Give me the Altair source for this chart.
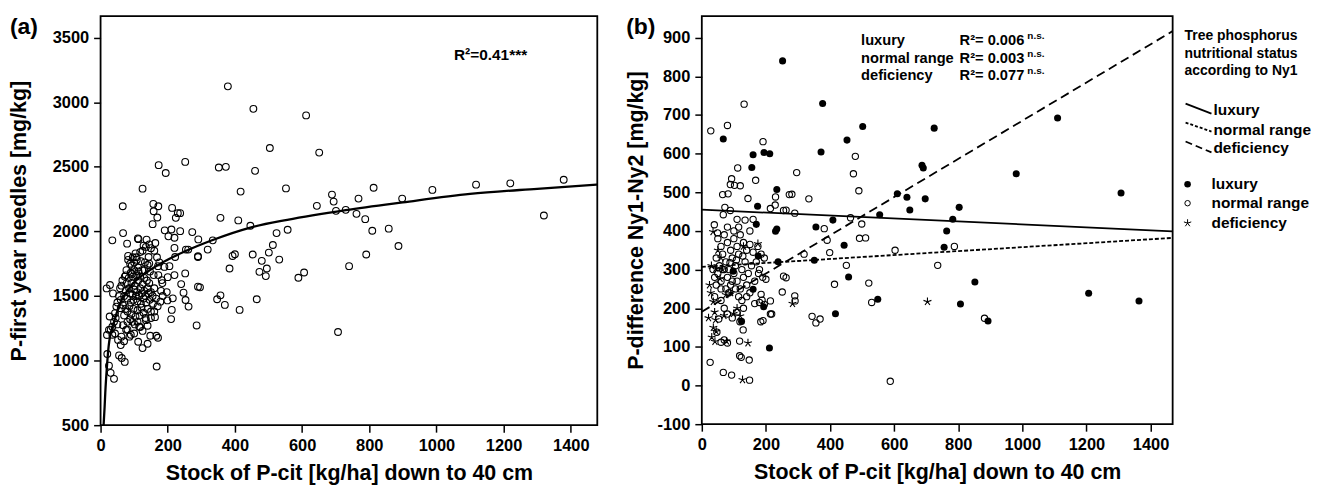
import altair as alt
import pandas as pd

FONT = "Liberation Sans"

# ---------------- panel (a): P in first-year needles vs P-cit stock ----------------
a_stock = [
    379, 455, 612, 504, 651, 252, 352, 373, 460, 417, 552, 230, 237, 357, 410, 446, 237, 273, 291, 334,
    254, 261, 319, 290, 252, 240, 247, 253, 262, 290, 296, 286, 357, 347, 370, 414, 465, 384, 393, 400,
    453, 480, 473, 495, 492, 501, 513, 524, 532, 557, 589, 606, 644, 689, 694, 701, 730, 768, 762, 788,
    809, 813, 858, 791, 740, 887, 898, 988, 1118, 1220, 1379, 1320, 707,
    173, 194, 125, 66, 157, 172, 158, 169, 213, 224, 155, 67, 191, 211, 202, 220, 111, 113, 35, 79,
    137, 163, 220, 290, 145, 205, 222, 220, 171, 143, 150, 128, 118, 107, 82, 82, 93, 77, 75, 93,
    113, 131, 147, 190, 158, 172, 182, 200, 184, 215, 197, 178, 162, 212, 210, 199, 166, 171, 148, 140,
    125, 112, 167, 72, 63, 55, 20, 25, 30, 40, 19, 25, 35, 43, 52, 62, 76, 67, 86, 100,
    115, 135, 18, 28, 37, 27, 47, 43, 60,
    70, 75, 80, 85, 88, 90, 92, 95, 98, 100, 102, 105, 108, 110, 112, 115, 118, 120, 122, 125,
    128, 130, 133, 136, 140, 143, 146, 150, 155, 160, 65, 72, 78, 84, 90, 96, 100, 106, 112, 118,
    124, 130, 138, 145, 60, 66, 74, 80, 86, 92, 98, 104, 110, 116, 122, 128, 134, 140, 150, 156,
    95, 102, 88, 80, 110, 118, 125, 70, 55, 50, 58, 62, 100, 108, 120, 132, 140, 88, 96, 104,
    125, 135, 145, 160, 168, 175, 180, 185, 165, 170, 160, 150, 140, 80, 90, 70, 60, 50, 45, 40,
    35, 30,
]
a_needle = [
    3123, 2949, 2898, 2646, 2610, 2538, 2495, 2500, 2469, 2308, 2333, 2141, 2141, 2105, 2085, 2044, 2002, 1995, 1938, 1931,
    1859, 1859, 1859, 1802, 1675, 1592, 1526, 1469, 1418, 1572, 1567, 1272, 1505, 1475, 1431, 1392, 1475, 1713, 1810, 1823,
    1821, 1772, 1687, 1713, 1654, 1836, 1895, 1987, 1782, 2013, 1641, 1682, 2198, 2285, 2231, 2159, 2167, 2254, 2136, 2095,
    2005, 2338, 2021, 1821, 1731, 1887, 2254, 2321, 2362, 2372, 2400, 2123, 1221,
    2513, 2452, 2331, 2195, 2213, 2195, 2156, 2108, 2182, 2105, 2056, 1987, 2008, 2015, 1962, 1951, 1946, 1940, 1931, 1905,
    1936, 1910, 1872, 1808, 1751, 1731, 1802, 1662, 1731, 1802, 1870, 1890, 1840, 1800, 1810, 1780, 1735, 1700, 1660, 1670,
    1690, 1700, 1690, 1725, 1662, 1662, 1623, 1646, 1600, 1482, 1530, 1456, 1336, 1392, 1321, 1466, 1192, 1177, 1192, 1130,
    1097, 1146, 954, 990, 1020, 1040, 1051, 961, 905, 859, 1198, 1238, 1262, 1210, 1160, 1185, 1238, 1274, 1185, 1210,
    1262, 1313, 1559, 1585, 1520, 1341, 1418, 1367, 1405,
    1500, 1540, 1480, 1560, 1520, 1450, 1600, 1510, 1470, 1550, 1580, 1500, 1530, 1460, 1620, 1500, 1560, 1440, 1520, 1590,
    1480, 1540, 1500, 1450, 1560, 1520, 1470, 1530, 1500, 1560, 1620, 1650, 1600, 1640, 1680, 1650, 1700, 1660, 1720, 1650,
    1700, 1640, 1620, 1600, 1470, 1430, 1400, 1380, 1420, 1360, 1400, 1340, 1390, 1350, 1410, 1370, 1330, 1400, 1380, 1440,
    1300, 1280, 1320, 1300, 1300, 1260, 1230, 1350, 1500, 1450, 1560, 1580, 1760, 1780, 1770, 1760, 1740, 1750, 1800, 1830,
    1850, 1880, 1900, 1850, 1800, 1760, 1540, 1500, 1480, 1420, 1380, 1330, 1270, 1240, 1200, 1150, 1120, 1280, 1330, 1300,
    1200, 1240,
]
# fitted curve
a_fit_stock = [9, 12, 14, 19, 24, 39, 58, 98, 147, 255, 330, 446, 556, 730, 900, 1100, 1300, 1479]
a_fit_needle = [500, 640, 750, 955, 1110, 1290, 1440, 1600, 1700, 1850, 1930, 2030, 2090, 2165, 2225, 2290, 2330, 2362]

# ---------------- panel (b): P difference Ny1-Ny2 by nutritional status ----------------
lux_stock = [252, 377, 502, 725, 453, 372, 687, 691, 1110, 981, 610, 640, 649, 697, 803, 555, 409, 356, 783, 764,
             444, 756, 351, 458, 852, 549, 807, 417, 893, 1308, 1207, 1364, 67, 160, 156, 194, 212, 234, 174, 170,
             234, 230, 176, 238, 160, 193, 124, 211, 98]
lux_diff = [840, 730, 670, 666, 635, 604, 570, 563, 692, 548, 496, 487, 454, 483, 461, 442, 428, 410, 430, 400,
            363, 358, 324, 281, 268, 223, 211, 186, 167, 498, 239, 219, 638, 597, 564, 603, 600, 507, 464, 417,
            405, 399, 335, 320, 249, 204, 166, 97, 296]

norm_stock = [296, 479, 473, 490, 273, 334, 255, 263, 290, 464, 499, 382, 492, 511, 391, 603, 788, 319, 399, 451,
              736, 255, 263, 414, 521, 251, 290, 291, 530, 344, 369, 356, 882, 588,
              132, 28, 80, 191, 112, 168, 93, 89, 102, 120, 65, 82, 144, 230, 281, 229, 214, 72, 67, 89,
              110, 135, 160, 39, 49, 177, 200, 165, 180, 195, 214, 184, 191, 119, 129, 118, 60, 70, 80, 47,
              53, 26, 67, 93, 118, 123, 148, 149,
              50, 60, 70, 80, 90, 100, 110, 120, 130, 140, 150, 160, 45, 55, 65, 75, 85, 95, 105, 115,
              125, 135, 145, 155, 170, 50, 60, 70, 80, 90, 100, 110, 120, 130, 140, 150, 165, 75, 85, 95,
              105, 115, 125, 60, 40, 35, 45, 180, 190, 175, 185, 195, 100, 80, 115, 150, 65, 88, 108, 128,
              60, 70, 80, 95, 110, 130, 140, 40, 185, 188, 214, 218]
norm_diff = [551, 593, 548, 504, 494, 483, 453, 454, 446, 434, 418, 406, 381, 382, 376, 350, 360, 340, 344, 311,
             311, 283, 279, 262, 265, 242, 232, 219, 215, 179, 172, 162, 174, 11,
             728, 659, 673, 631, 563, 531, 535, 520, 518, 517, 494, 496, 484, 488, 495, 467, 458, 461, 442, 453,
             430, 428, 430, 416, 395, 290, 275, 212, 215, 210, 185, 165, 168, 165, 144, 115, 112, 118, 110, 138,
             172, 60, 34, 27, 77, 73, 66, 14,
             380, 360, 390, 370, 350, 380, 360, 390, 370, 350, 365, 345, 330, 310, 340, 320, 300, 330, 310, 340,
             300, 320, 290, 310, 320, 290, 270, 300, 280, 260, 290, 270, 250, 280, 260, 240, 270, 250, 240, 270,
             250, 230, 220, 250, 280, 300, 260, 300, 280, 360, 340, 330, 400, 410, 410, 400, 300, 318, 325, 335,
             220, 200, 185, 175, 190, 200, 230, 230, 236, 221, 219, 185]

def_stock = [283, 704, 35, 175, 24, 28, 36, 21, 43, 36, 31, 41, 77, 144, 127, 99, 69, 44, 65, 57,
             75, 30, 50, 60, 90, 110, 120, 40, 45, 130]
def_diff = [212, 217, 398, 367, 260, 240, 217, 175, 170, 150, 125, 114, 115, 110, 15, 186, 181, 303, 300, 277,
            235, 310, 350, 330, 240, 200, 180, 190, 140, 360]

# linear fits per status group, end values
fit_stock = [0, 1469]
fit_lux = [455, 399]
fit_norm = [307, 382]
fit_def = [191, 917]

W_A, H_A = 499, 411
W_B, H_B = 473, 410


def txt(s, x, y, size, align="left", baseline="alphabetic"):
    return alt.Chart(pd.DataFrame({"t": [s]})).mark_text(
        align=align, baseline=baseline, fontSize=size, fontWeight="bold", font=FONT, color="black"
    ).encode(x=alt.value(x), y=alt.value(y), text="t:N")


# ---------- panel (a) ----------
xa = alt.X("stock:Q", scale=alt.Scale(domain=[0, 1479], nice=False, zero=False),
           axis=alt.Axis(values=list(range(0, 1401, 200)), format="d",
                         title="Stock of P-cit [kg/ha] down to 40 cm"))
ya = alt.Y("val:Q", scale=alt.Scale(domain=[500, 3667], nice=False, zero=False),
           axis=alt.Axis(values=list(range(500, 3501, 500)), format="d",
                         title="P-first year needles [mg/kg]",
                         titleX=-81, titleBaseline="middle"))

df_a = pd.DataFrame({"stock": a_stock, "val": a_needle})
df_af = pd.DataFrame({"stock": a_fit_stock, "val": a_fit_needle})

pts_a = alt.Chart(df_a).mark_point(shape="circle", filled=False, color="black", size=46,
                                   strokeWidth=1.1, opacity=1).encode(x=xa, y=ya)
curve_a = alt.Chart(df_af).mark_line(color="black", strokeWidth=2.3, interpolate="monotone",
                                     clip=True).encode(x=xa, y=ya)

panel_a = alt.layer(
    pts_a, curve_a,
    txt("R²=0.41***", 355, 44, 15.5),
    txt("(a)", -91, 18, 23),
).properties(width=W_A, height=H_A)

# ---------- panel (b) ----------
xb = alt.X("stock:Q", scale=alt.Scale(domain=[0, 1469], nice=False, zero=False),
           axis=alt.Axis(values=list(range(0, 1401, 200)), format="d",
                         title="Stock of P-cit [kg/ha] down to 40 cm"))
yb = alt.Y("val:Q", scale=alt.Scale(domain=[-100, 956], nice=False, zero=False),
           axis=alt.Axis(values=list(range(-100, 901, 100)), title="P-difference Ny1-Ny2 [mg/kg]",
                         titleX=-66, titleBaseline="middle", labelExpr="'' + datum.value"))

STAR = "M0,0L0,-1M0,0L0.95,-0.31M0,0L0.59,0.81M0,0L-0.59,0.81M0,0L-0.95,-0.31"

pts_lux = alt.Chart(pd.DataFrame({"stock": lux_stock, "val": lux_diff})).mark_point(
    shape="circle", filled=True, color="black", size=50, opacity=1).encode(x=xb, y=yb)
pts_norm = alt.Chart(pd.DataFrame({"stock": norm_stock, "val": norm_diff})).mark_point(
    shape="circle", filled=False, color="black", size=40, strokeWidth=1.1, opacity=1).encode(x=xb, y=yb)
pts_def = alt.Chart(pd.DataFrame({"stock": def_stock, "val": def_diff})).mark_point(
    shape=STAR, filled=False, color="black", size=70, strokeWidth=1.1, opacity=1).encode(x=xb, y=yb)

line_lux = alt.Chart(pd.DataFrame({"stock": fit_stock, "val": fit_lux})).mark_line(
    color="black", strokeWidth=1.8, clip=True).encode(x=xb, y=yb)
line_norm = alt.Chart(pd.DataFrame({"stock": fit_stock, "val": fit_norm})).mark_line(
    color="black", strokeWidth=1.8, strokeDash=[4, 2], clip=True).encode(x=xb, y=yb)
line_def = alt.Chart(pd.DataFrame({"stock": fit_stock, "val": fit_def})).mark_line(
    color="black", strokeWidth=1.8, strokeDash=[9, 5], clip=True).encode(x=xb, y=yb)


def leg_rule(x1, y1, x2, y2, dash=None):
    kw = dict(color="black", strokeWidth=1.8)
    if dash:
        kw["strokeDash"] = dash
    return alt.Chart(pd.DataFrame({"a": [0]})).mark_rule(**kw).encode(
        x=alt.value(x1), y=alt.value(y1), x2=alt.value(x2), y2=alt.value(y2))


def leg_sym(x, y, shape, filled, size):
    return alt.Chart(pd.DataFrame({"a": [0]})).mark_point(
        shape=shape, filled=filled, color="black", size=size, strokeWidth=1, opacity=1
    ).encode(x=alt.value(x), y=alt.value(y))


panel_b = alt.layer(
    pts_norm, pts_def, pts_lux, line_lux, line_norm, line_def,
    # R² annotations
    txt("luxury", 160, 29, 14.7),
    txt("normal range", 160, 47, 14.7),
    txt("deficiency", 160, 64, 14.7),
    txt("R²= 0.006", 259, 29, 14.7),
    txt("R²= 0.003", 259, 47, 14.7),
    txt("R²= 0.077", 259, 64, 14.7),
    txt("n.s.", 327, 23, 10),
    txt("n.s.", 327, 41, 10),
    txt("n.s.", 327, 58, 10),
    txt("(b)", -76, 18, 23),
    # legend
    txt("Tree phosphorus", 485, 24, 14),
    txt("nutritional status", 485, 42, 14),
    txt("according to Ny1", 485, 59, 14),
    leg_rule(486, 88, 512, 98),
    leg_rule(486, 107, 512, 116, [3, 2]),
    leg_rule(486, 126, 512, 137, [7, 4]),
    txt("luxury", 514, 99, 15.5),
    txt("normal range", 514, 119, 15.5),
    txt("deficiency", 514, 138, 15.5),
    leg_sym(488, 169, "circle", True, 44),
    leg_sym(488, 188, "circle", False, 30),
    leg_sym(488, 208, STAR, False, 60),
    txt("luxury", 512, 174, 15.5),
    txt("normal range", 512, 193, 15.5),
    txt("deficiency", 512, 213, 15.5),
).properties(width=W_B, height=H_B)

chart = alt.hconcat(panel_a, panel_b, spacing=26).properties(
    padding={"left": 0, "top": 6, "right": 0, "bottom": 0}
).configure_view(
    stroke="black", strokeWidth=1.8
).configure_axis(
    labelFont=FONT, titleFont=FONT, labelFontSize=16.5, titleFontSize=21.5,
    labelFontWeight="bold", titleFontWeight="bold", labelColor="black", titleColor="black",
    tickColor="black", tickSize=7, tickWidth=1.5, domain=False, grid=False,
    labelPadding=5, titlePadding=9, labelOverlap=False, labelFlush=False
)

chart.save("out.html", embed_options={"renderer": "svg", "actions": False})
